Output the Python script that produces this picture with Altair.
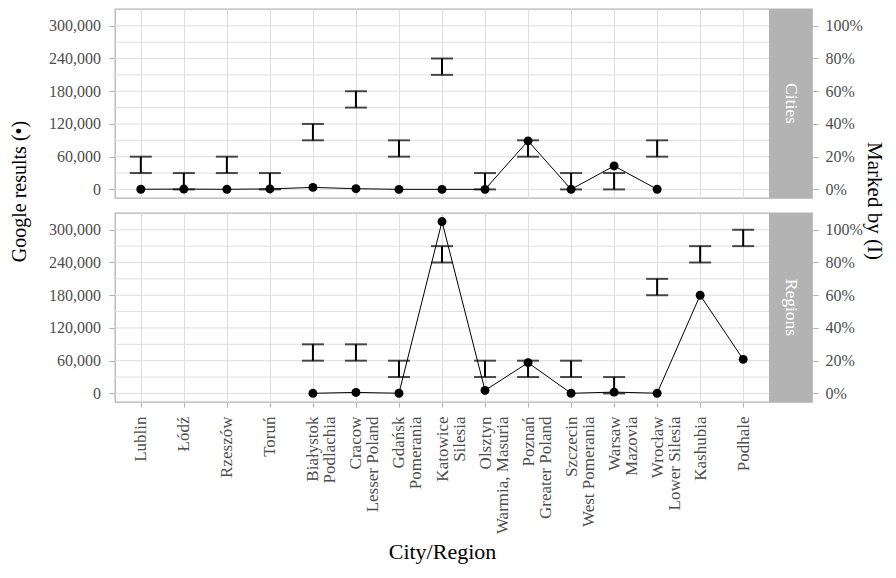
import altair as alt
import pandas as pd

categories = ["Lublin", "Łódź", "Rzeszów", "Toruń",
              "Białystok\nPodlachia", "Cracow\nLesser Poland", "Gdańsk\nPomerania",
              "Katowice\nSilesia", "Olsztyn\nWarmia, Masuria", "Poznań\nGreater Poland",
              "Szczecin\nWest Pomerania", "Warsaw\nMazovia", "Wrocław\nLower Silesia",
              "Kashubia", "Podhale"]

cities_google = [300, 600, 200, 900, 3700, 1300, 100, 100, 100, 89000, 200, 43000, 300, None, None]
cities_lo = [0.1, 0.0, 0.1, 0.0, 0.3, 0.5, 0.2, 0.7, 0.0, 0.2, 0.0, 0.0, 0.2, None, None]
cities_hi = [0.2, 0.1, 0.2, 0.1, 0.4, 0.6, 0.3, 0.8, 0.1, 0.3, 0.1, 0.1, 0.3, None, None]

regions_google = [None, None, None, None, 200, 1800, 300, 315000, 5500, 56300, 200, 2400, 300, 180000, 62400]
regions_lo = [None, None, None, None, 0.2, 0.2, 0.1, 0.8, 0.1, 0.1, 0.1, 0.0, 0.6, 0.8, 0.9]
regions_hi = [None, None, None, None, 0.3, 0.3, 0.2, 0.9, 0.2, 0.2, 0.2, 0.1, 0.7, 0.9, 1.0]

google_ticks = [0, 60000, 120000, 180000, 240000, 300000]
grid_values = [0, 30000, 60000, 90000, 120000, 150000, 180000, 210000, 240000, 270000, 300000]
pct_ticks = [0, 0.2, 0.4, 0.6, 0.8, 1.0]

W, H = 697, 189
PW = 654
GDOM = [-15750, 330750]
PDOM = [-0.0525, 1.1025]
FONT = "Liberation Serif"


def panel(name, google, lo, hi, bottom):
    df = pd.DataFrame({"cat": categories, "idx": list(range(len(categories))),
                       "google": google, "lo": lo, "hi": hi})
    xscale = alt.Scale(type="point", domain=categories, range=[0, PW], padding=0.6)
    if bottom:
        xaxis = alt.Axis(title="City/Region", labelAngle=270,
                         labelExpr="split(datum.label, '\\n')", labelLineHeight=17,
                         labelFontSize=17, labelPadding=9, tickSize=5, grid=True,
                         domain=False, titleX=PW / 2, titleAlign="center",
                         titlePadding=8, titleFontSize=22)
    else:
        xaxis = alt.Axis(title=None, labels=False, ticks=False, domain=False, grid=True)
    gscale = alt.Scale(domain=GDOM, nice=False, zero=False)
    pscale = alt.Scale(domain=PDOM, nice=False, zero=False)

    if not bottom:
        left_axis = alt.Axis(values=google_ticks, format=",.0f", orient="left", grid=False,
                             tickSize=6, labelPadding=8.5, domain=False,
                             title="Google results (•)", titlePadding=19.5, titleY=182,
                             titleFontSize=20)
        right_axis = alt.Axis(values=pct_ticks, format=".0%", orient="right", grid=False,
                              tickSize=6, labelPadding=7, domain=False,
                              title="Marked by (I)", titlePadding=1, titleY=191.5,
                              titleFontSize=21)
    else:
        left_axis = alt.Axis(values=google_ticks, format=",.0f", orient="left", grid=False,
                             tickSize=6, labelPadding=8.5, domain=False, title=None)
        right_axis = alt.Axis(values=pct_ticks, format=".0%", orient="right", grid=False,
                              tickSize=6, labelPadding=7, domain=False, title=None)

    X = alt.X("cat:N", scale=xscale, axis=xaxis, sort=categories)

    grid = alt.Chart(pd.DataFrame({"g": grid_values})).mark_rule(
        color="#dedede", strokeWidth=1).encode(
        y=alt.Y("g:Q", scale=gscale, axis=left_axis),
        x=alt.value(0), x2=alt.value(PW))

    base = alt.Chart(df)
    errs = base.transform_filter("isValid(datum.lo)").mark_rule(
        color="black", strokeWidth=2).encode(
        x=X,
        y=alt.Y("lo:Q", scale=pscale, axis=right_axis),
        y2="hi:Q")
    cap_lo = base.transform_filter("isValid(datum.lo)").mark_tick(
        color="black", size=22, thickness=2, orient="horizontal").encode(
        x=X,
        y=alt.Y("lo:Q", scale=pscale, axis=None))
    cap_hi = base.transform_filter("isValid(datum.hi)").mark_tick(
        color="black", size=22, thickness=2, orient="horizontal").encode(
        x=X,
        y=alt.Y("hi:Q", scale=pscale, axis=None))
    line = base.transform_filter("isValid(datum.google)").mark_line(
        color="black", strokeWidth=1).encode(
        x=X,
        y=alt.Y("google:Q", scale=gscale, axis=None),
        order=alt.Order("idx:Q"))
    pts = base.transform_filter("isValid(datum.google)").mark_circle(
        color="black", size=80, opacity=1).encode(
        x=X,
        y=alt.Y("google:Q", scale=gscale, axis=None))

    sdf = pd.DataFrame({"s": [name]})
    strip = alt.Chart(sdf).mark_rect(color="#b3b3b3").encode(
        x=alt.value(PW), x2=alt.value(W), y=alt.value(0), y2=alt.value(H))
    strip_text = alt.Chart(sdf).mark_text(
        angle=90, color="white", font=FONT, fontSize=17.5, align="center",
        baseline="middle").encode(
        x=alt.value((PW + W) / 2), y=alt.value(H / 2), text="s:N")

    return alt.layer(grid, errs, cap_lo, cap_hi, line, pts, strip, strip_text).resolve_scale(
        y="independent").properties(width=W, height=H)


top = panel("Cities", cities_google, cities_lo, cities_hi, False)
bottom = panel("Regions", regions_google, regions_lo, regions_hi, True)

chart = alt.vconcat(top, bottom, spacing=15, bounds="flush").properties(
    padding={"left": 0, "top": 0, "right": 3, "bottom": 0}
).configure(font=FONT).configure_view(
    stroke="#b3b3b3", strokeWidth=1.3
).configure_axis(
    labelFont=FONT, labelFontSize=16, labelColor="#4d4d4d",
    titleFont=FONT, titleFontSize=20, titleColor="black", titleFontWeight="normal",
    tickColor="#b3b3b3", tickWidth=1, gridColor="#dedede", gridWidth=1
)

chart.save("out.html", embed_options={"renderer": "svg", "actions": False})
